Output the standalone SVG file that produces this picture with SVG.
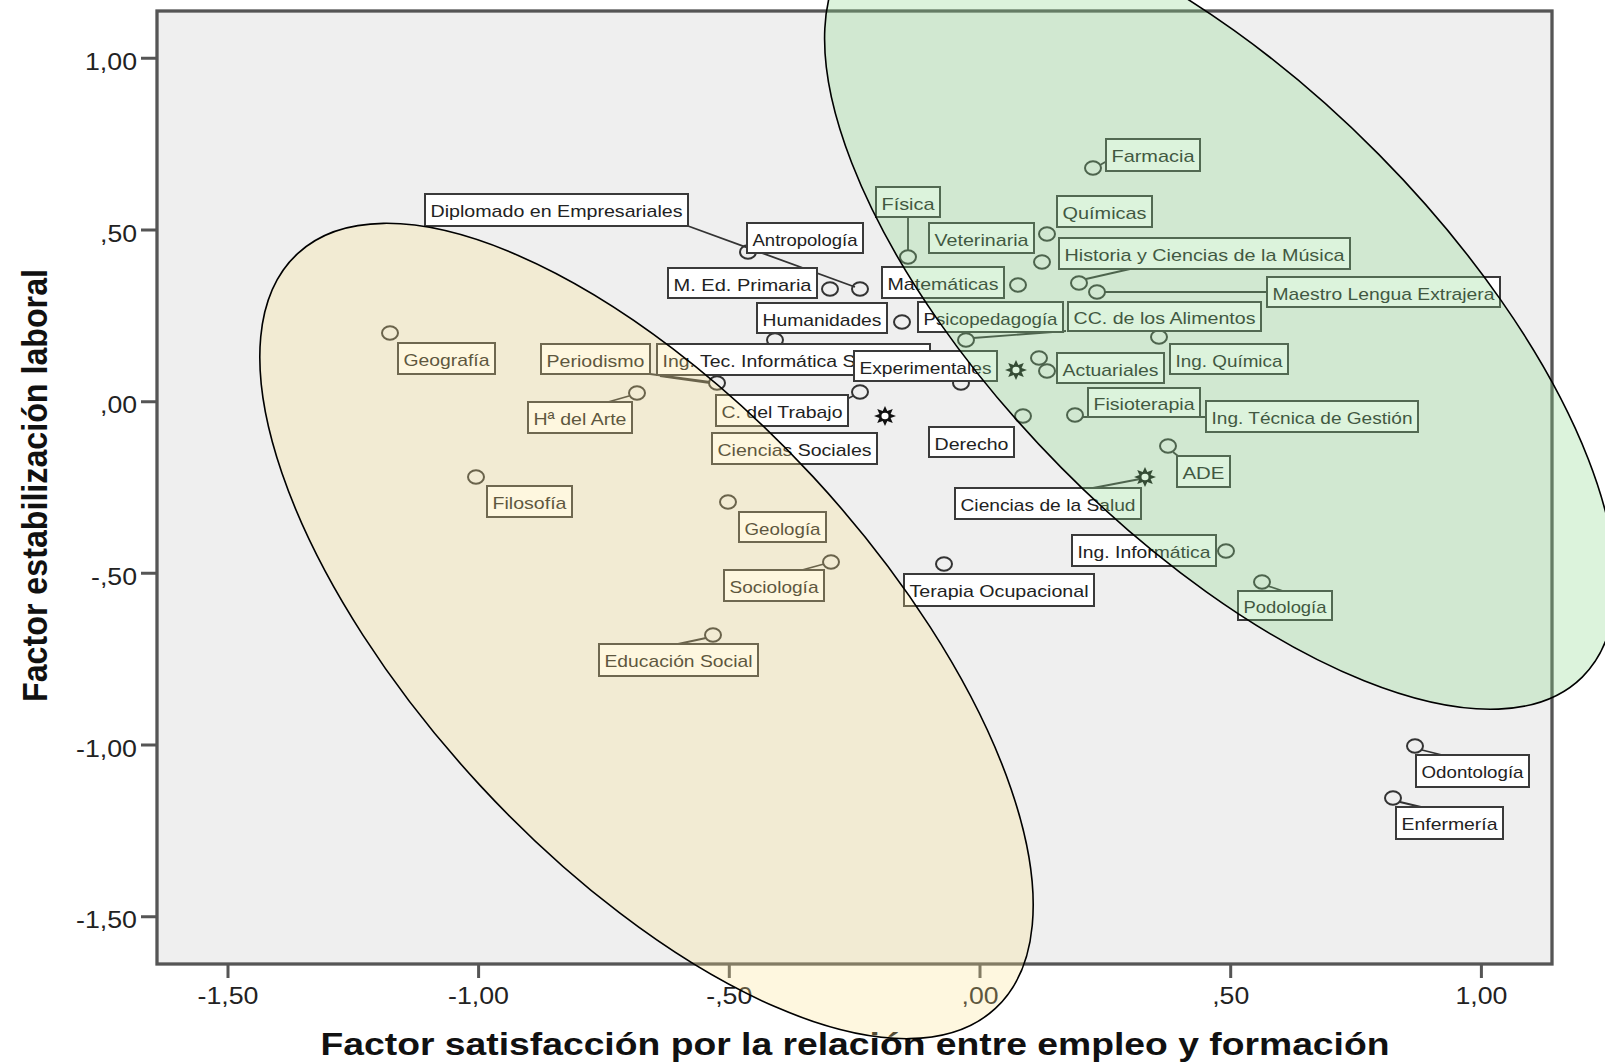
<svg xmlns="http://www.w3.org/2000/svg" xmlns:xlink="http://www.w3.org/1999/xlink" width="1605" height="1064" viewBox="0 0 1605 1064">
<style>
.plot{fill:#efefef;stroke:#555;stroke-width:3.3}
.tick{stroke:#555;stroke-width:3}
.tl{font-family:"Liberation Sans",Arial,sans-serif;font-size:23px;fill:#222}
.title{font-family:"Liberation Sans",Arial,sans-serif;font-size:31px;font-weight:bold;fill:#111}
.box{fill:#fff;stroke:#3a3a3a;stroke-width:2}
.lbl{font-family:"Liberation Sans",Arial,sans-serif;font-size:17px;fill:#222}
.pt{fill:none;stroke:#333;stroke-width:2}
.con{fill:none;stroke:#333;stroke-width:1.8}
.ey{fill:rgb(250,225,140);fill-opacity:.28;stroke:#000;stroke-width:1.6}
.eg{fill:rgb(140,215,140);fill-opacity:.3;stroke:#000;stroke-width:1.6}
</style>
<defs>
<g id="star"><path d="M10 0L5.08 2.1L7.07 7.07L2.1 5.08L0 10L-2.1 5.08L-7.07 7.07L-5.08 2.1L-10 0L-5.08 -2.1L-7.07 -7.07L-2.1 -5.08L0 -10L2.1 -5.08L7.07 -7.07L5.08 -2.1Z" fill="#111"/><circle r="3.2" fill="#fff"/></g>
</defs>
<rect width="1605" height="1064" fill="#fff"/>
<g id="axes">
<rect class="plot" x="157" y="11" width="1395" height="953"/>
<path class="tick" d="M141 58.3H157M141 230H157M141 401.7H157M141 573.3H157M141 745H157M141 916.7H157M228 964V978M478.6 964V978M729.3 964V978M980 964V978M1230.7 964V978M1481.4 964V978"/>
<text class="tl" x="85" y="70" textLength="52" lengthAdjust="spacingAndGlyphs">1,00</text>
<text class="tl" x="100" y="241.7" textLength="37" lengthAdjust="spacingAndGlyphs">,50</text>
<text class="tl" x="100" y="413.4" textLength="37" lengthAdjust="spacingAndGlyphs">,00</text>
<text class="tl" x="91" y="585" textLength="46" lengthAdjust="spacingAndGlyphs">-,50</text>
<text class="tl" x="76" y="756.7" textLength="61" lengthAdjust="spacingAndGlyphs">-1,00</text>
<text class="tl" x="76" y="928.4" textLength="61" lengthAdjust="spacingAndGlyphs">-1,50</text>
<text class="tl" x="197.5" y="1004" textLength="61" lengthAdjust="spacingAndGlyphs">-1,50</text>
<text class="tl" x="448" y="1004" textLength="61" lengthAdjust="spacingAndGlyphs">-1,00</text>
<text class="tl" x="706.3" y="1004" textLength="46" lengthAdjust="spacingAndGlyphs">-,50</text>
<text class="tl" x="961.5" y="1004" textLength="37" lengthAdjust="spacingAndGlyphs">,00</text>
<text class="tl" x="1212.2" y="1004" textLength="37" lengthAdjust="spacingAndGlyphs">,50</text>
<text class="tl" x="1455.4" y="1004" textLength="52" lengthAdjust="spacingAndGlyphs">1,00</text>
<text class="title" x="320.5" y="1055" textLength="1069" lengthAdjust="spacingAndGlyphs">Factor satisfacción por la relación entre empleo y formación</text>
<text class="title" transform="translate(46.5 485.5) scale(1.16 1) rotate(-90)" x="-216.5" y="0" textLength="433" lengthAdjust="spacingAndGlyphs">Factor estabilización laboral</text>
</g>
<g id="connectors">
<path class="con" d="M688 226L855 287"/>
<path class="con" d="M908 217L908 250"/>
<path class="con" d="M1100 165L1107 161"/>
<path class="con" d="M1086 279L1130 269"/>
<path class="con" d="M1104 292L1267 292"/>
<path class="con" d="M973 338L1066 331"/>
<path class="con" d="M650 374L710 382"/>
<path class="con" d="M660 376L710 383"/>
<path class="con" d="M629 396L608 402"/>
<path class="con" d="M853 396L847 399"/>
<path class="con" d="M1083 417L1206 417"/>
<path class="con" d="M1140 479L1093 488"/>
<path class="con" d="M824 564L802 570"/>
<path class="con" d="M706 638L678 644"/>
<path class="con" d="M1268 586L1283 591"/>
<path class="con" d="M1422 750L1442 755"/>
<path class="con" d="M1400 802L1421 807"/>
<path class="con" d="M1173 452L1178 456"/>
</g>
<g id="n-diplomado"><ellipse class="pt" cx="860" cy="289" rx="8" ry="6.8"/><rect class="box" x="425" y="194" width="263" height="32"/><text class="lbl" x="430.5" y="216.5" textLength="252" lengthAdjust="spacingAndGlyphs">Diplomado en Empresariales</text></g>
<g id="n-antropologia"><ellipse class="pt" cx="748" cy="252" rx="8" ry="6.8"/><rect class="box" x="747" y="223" width="116" height="30"/><text class="lbl" x="752.5" y="245.5" textLength="105" lengthAdjust="spacingAndGlyphs">Antropología</text></g>
<g id="n-med-primaria"><ellipse class="pt" cx="830" cy="289" rx="8" ry="6.8"/><rect class="box" x="668" y="268" width="149" height="30"/><text class="lbl" x="673.5" y="290.5" textLength="138" lengthAdjust="spacingAndGlyphs">M. Ed. Primaria</text></g>
<g id="n-humanidades"><ellipse class="pt" cx="775" cy="340" rx="8" ry="6.8"/><rect class="box" x="757" y="303" width="130" height="30"/><text class="lbl" x="762.5" y="325.5" textLength="119" lengthAdjust="spacingAndGlyphs">Humanidades</text></g>
<g id="n-geografia"><ellipse class="pt" cx="390" cy="333" rx="8" ry="6.8"/><rect class="box" x="398" y="343" width="97" height="31"/><text class="lbl" x="403.5" y="365.5" textLength="86" lengthAdjust="spacingAndGlyphs">Geografía</text></g>
<g id="n-periodismo"><ellipse class="pt" cx="717" cy="383" rx="8" ry="6.8"/><rect class="box" x="541" y="344" width="109" height="30"/><text class="lbl" x="546.5" y="366.5" textLength="98" lengthAdjust="spacingAndGlyphs">Periodismo</text></g>
<g id="n-ing-tec-informatica"><rect class="box" x="657" y="344" width="273" height="31"/><text class="lbl" x="662.5" y="366.5" textLength="193" lengthAdjust="spacingAndGlyphs">Ing. Tec. Informática S</text></g>
<g id="n-derecho"><ellipse class="pt" cx="961" cy="383" rx="8" ry="6.8"/><rect class="box" x="929" y="427" width="85" height="30"/><text class="lbl" x="934.5" y="449.5" textLength="74" lengthAdjust="spacingAndGlyphs">Derecho</text></g>
<g id="n-experimentales"><rect class="box" x="854" y="351" width="143" height="30"/><text class="lbl" x="859.5" y="373.5" textLength="132" lengthAdjust="spacingAndGlyphs">Experimentales</text></g>
<g id="n-ha-arte"><ellipse class="pt" cx="637" cy="393" rx="8" ry="6.8"/><rect class="box" x="528" y="402" width="104" height="31"/><text class="lbl" x="533.5" y="424.5" textLength="93" lengthAdjust="spacingAndGlyphs">Hª del Arte</text></g>
<g id="n-c-trabajo"><ellipse class="pt" cx="860" cy="392" rx="8" ry="6.8"/><rect class="box" x="716" y="395" width="132" height="31"/><text class="lbl" x="721.5" y="417.5" textLength="121" lengthAdjust="spacingAndGlyphs">C. del Trabajo</text></g>
<g id="n-ciencias-sociales"><rect class="box" x="712" y="433" width="165" height="31"/><text class="lbl" x="717.5" y="455.5" textLength="154" lengthAdjust="spacingAndGlyphs">Ciencias Sociales</text></g>
<g id="n-filosofia"><ellipse class="pt" cx="476" cy="477" rx="8" ry="6.8"/><rect class="box" x="487" y="486" width="85" height="31"/><text class="lbl" x="492.5" y="508.5" textLength="74" lengthAdjust="spacingAndGlyphs">Filosofía</text></g>
<g id="n-geologia"><ellipse class="pt" cx="728" cy="502" rx="8" ry="6.8"/><rect class="box" x="739" y="512" width="87" height="30"/><text class="lbl" x="744.5" y="534.5" textLength="76" lengthAdjust="spacingAndGlyphs">Geología</text></g>
<g id="n-sociologia"><ellipse class="pt" cx="831" cy="562" rx="8" ry="6.8"/><rect class="box" x="724" y="570" width="100" height="31"/><text class="lbl" x="729.5" y="592.5" textLength="89" lengthAdjust="spacingAndGlyphs">Sociología</text></g>
<g id="n-educacion-social"><ellipse class="pt" cx="713" cy="635" rx="8" ry="6.8"/><rect class="box" x="599" y="644" width="159" height="32"/><text class="lbl" x="604.5" y="666.5" textLength="148" lengthAdjust="spacingAndGlyphs">Educación Social</text></g>
<g id="n-terapia-ocupacional"><ellipse class="pt" cx="944" cy="564" rx="8" ry="6.8"/><rect class="box" x="904" y="574" width="190" height="32"/><text class="lbl" x="909.5" y="596.5" textLength="179" lengthAdjust="spacingAndGlyphs">Terapia Ocupacional</text></g>
<g id="n-ciencias-salud"><rect class="box" x="955" y="488" width="186" height="31"/><text class="lbl" x="960.5" y="510.5" textLength="175" lengthAdjust="spacingAndGlyphs">Ciencias de la Salud</text></g>
<g id="n-ing-informatica"><ellipse class="pt" cx="1226" cy="551" rx="8" ry="6.8"/><rect class="box" x="1072" y="535" width="144" height="31"/><text class="lbl" x="1077.5" y="557.5" textLength="133" lengthAdjust="spacingAndGlyphs">Ing. Informática</text></g>
<g id="n-podologia"><ellipse class="pt" cx="1262" cy="582" rx="8" ry="6.8"/><rect class="box" x="1238" y="591" width="94" height="29"/><text class="lbl" x="1243.5" y="612.5" textLength="83" lengthAdjust="spacingAndGlyphs">Podología</text></g>
<g id="n-ade"><ellipse class="pt" cx="1168" cy="446" rx="8" ry="6.8"/><rect class="box" x="1177" y="456" width="53" height="31"/><text class="lbl" x="1182.5" y="478.5" textLength="42" lengthAdjust="spacingAndGlyphs">ADE</text></g>
<g id="n-ing-tecnica-gestion"><ellipse class="pt" cx="1075" cy="415" rx="8" ry="6.8"/><rect class="box" x="1206" y="401" width="212" height="31"/><text class="lbl" x="1211.5" y="423.5" textLength="201" lengthAdjust="spacingAndGlyphs">Ing. Técnica de Gestión</text></g>
<g id="n-fisioterapia"><ellipse class="pt" cx="1023" cy="416" rx="8" ry="6.8"/><rect class="box" x="1088" y="388" width="112" height="29"/><text class="lbl" x="1093.5" y="409.5" textLength="101" lengthAdjust="spacingAndGlyphs">Fisioterapia</text></g>
<g id="n-actuariales"><ellipse class="pt" cx="1039" cy="358" rx="8" ry="6.8"/><ellipse class="pt" cx="1047" cy="371" rx="8" ry="6.8"/><rect class="box" x="1057" y="353" width="107" height="30"/><text class="lbl" x="1062.5" y="375.5" textLength="96" lengthAdjust="spacingAndGlyphs">Actuariales</text></g>
<g id="n-ing-quimica"><ellipse class="pt" cx="1159" cy="337" rx="8" ry="6.8"/><rect class="box" x="1170" y="344" width="118" height="30"/><text class="lbl" x="1175.5" y="366.5" textLength="107" lengthAdjust="spacingAndGlyphs">Ing. Química</text></g>
<g id="n-cc-alimentos"><ellipse class="pt" cx="966" cy="340" rx="8" ry="6.8"/><rect class="box" x="1068" y="302" width="193" height="29"/><text class="lbl" x="1073.5" y="323.5" textLength="182" lengthAdjust="spacingAndGlyphs">CC. de los Alimentos</text></g>
<g id="n-psicopedagogia"><ellipse class="pt" cx="902" cy="322" rx="8" ry="6.8"/><rect class="box" x="918" y="302" width="145" height="30"/><text class="lbl" x="923.5" y="324.5" textLength="134" lengthAdjust="spacingAndGlyphs">Psicopedagogía</text></g>
<g id="n-matematicas"><ellipse class="pt" cx="1018" cy="285" rx="8" ry="6.8"/><rect class="box" x="882" y="267" width="122" height="31"/><text class="lbl" x="887.5" y="289.5" textLength="111" lengthAdjust="spacingAndGlyphs">Matemáticas</text></g>
<g id="n-maestro-lengua"><ellipse class="pt" cx="1097" cy="292" rx="8" ry="6.8"/><rect class="box" x="1267" y="277" width="233" height="30"/><text class="lbl" x="1272.5" y="299.5" textLength="222" lengthAdjust="spacingAndGlyphs">Maestro Lengua Extrajera</text></g>
<g id="n-historia-musica"><ellipse class="pt" cx="1079" cy="283" rx="8" ry="6.8"/><rect class="box" x="1059" y="238" width="291" height="31"/><text class="lbl" x="1064.5" y="260.5" textLength="280" lengthAdjust="spacingAndGlyphs">Historia y Ciencias de la Música</text></g>
<g id="n-veterinaria"><ellipse class="pt" cx="1042" cy="262" rx="8" ry="6.8"/><rect class="box" x="929" y="223" width="105" height="30"/><text class="lbl" x="934.5" y="245.5" textLength="94" lengthAdjust="spacingAndGlyphs">Veterinaria</text></g>
<g id="n-quimicas"><ellipse class="pt" cx="1047" cy="234" rx="8" ry="6.8"/><rect class="box" x="1057" y="196" width="95" height="31"/><text class="lbl" x="1062.5" y="218.5" textLength="84" lengthAdjust="spacingAndGlyphs">Químicas</text></g>
<g id="n-fisica"><ellipse class="pt" cx="908" cy="257" rx="8" ry="6.8"/><rect class="box" x="876" y="187" width="64" height="30"/><text class="lbl" x="881.5" y="209.5" textLength="53" lengthAdjust="spacingAndGlyphs">Física</text></g>
<g id="n-farmacia"><ellipse class="pt" cx="1093" cy="168" rx="8" ry="6.8"/><rect class="box" x="1106" y="139" width="94" height="32"/><text class="lbl" x="1111.5" y="161.5" textLength="83" lengthAdjust="spacingAndGlyphs">Farmacia</text></g>
<g id="n-odontologia"><ellipse class="pt" cx="1415" cy="746" rx="8" ry="6.8"/><rect class="box" x="1416" y="755" width="113" height="32"/><text class="lbl" x="1421.5" y="777.5" textLength="102" lengthAdjust="spacingAndGlyphs">Odontología</text></g>
<g id="n-enfermeria"><ellipse class="pt" cx="1393" cy="798" rx="8" ry="6.8"/><rect class="box" x="1396" y="807" width="107" height="32"/><text class="lbl" x="1401.5" y="829.5" textLength="96" lengthAdjust="spacingAndGlyphs">Enfermería</text></g>
<g id="centroids">
<use xlink:href="#star" transform="translate(885 416) scale(1.1 1)"/>
<use xlink:href="#star" transform="translate(1016 370) scale(1.1 1)"/>
<use xlink:href="#star" transform="translate(1145 477) scale(1.1 1)"/>
</g>
<g id="clusters">
<ellipse class="ey" cx="646.5" cy="631" rx="514" ry="227" transform="rotate(47.25 646.5 631)"/>
<ellipse class="eg" cx="1220" cy="311" rx="515" ry="223" transform="rotate(45.3 1220 311)"/>
</g>
</svg>
